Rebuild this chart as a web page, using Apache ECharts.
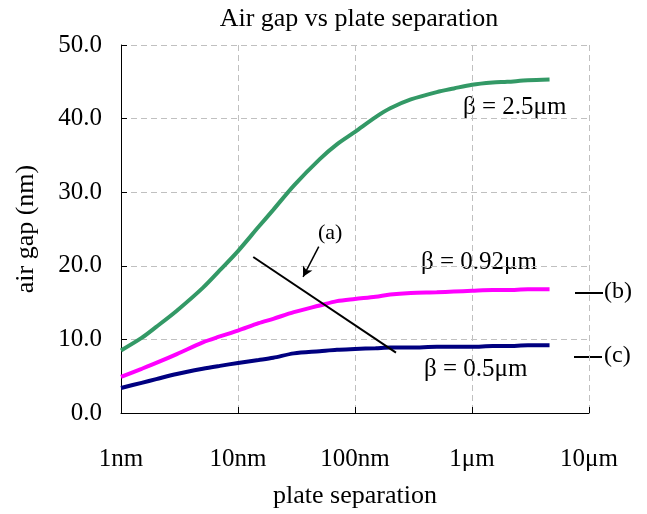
<!DOCTYPE html>
<html>
<head>
<meta charset="utf-8">
<script src="https://cdn.jsdelivr.net/npm/echarts@6/dist/echarts.min.js"></script>
<style>
  html, body { margin: 0; padding: 0; background: #fff; }
  #chart { width: 647px; height: 514px; }
</style>
</head>
<body>
<div id="chart"></div>
<script>
// plate separation (nm)
var separation = [1, 1.5, 2, 3, 5, 7, 10, 15, 20, 30, 50, 70, 100, 150, 200, 300, 500, 700, 1000, 1500, 2000, 3000, 4600];
// air gap (nm) for each beta
var gap25 = [8.5, 10.2, 11.7, 13.9, 17.0, 19.4, 22.0, 25.3, 27.6, 30.9, 34.5, 36.5, 38.2, 40.2, 41.4, 42.6, 43.6, 44.1, 44.6, 44.9, 45.0, 45.2, 45.3];
var gap092 = [4.9, 6.0, 6.8, 8.0, 9.6, 10.4, 11.2, 12.2, 12.8, 13.7, 14.6, 15.2, 15.5, 15.8, 16.1, 16.3, 16.4, 16.5, 16.6, 16.7, 16.7, 16.8, 16.8];
var gap05 = [3.4, 4.1, 4.6, 5.3, 6.0, 6.4, 6.8, 7.2, 7.5, 8.1, 8.4, 8.6, 8.7, 8.8, 8.9, 8.9, 9.0, 9.0, 9.0, 9.1, 9.1, 9.2, 9.2];
// line (a) and its arrow
var lineA = [[13.5, 21.2], [224, 8.2]];
var arrowA = [[49, 22.6], [36, 18.5]];

var xTickLabels = { 1: '1nm', 10: '10nm', 100: '100nm', 1000: '1\u03bcm', 10000: '10\u03bcm' };

var FONT = 'Liberation Serif';

function pairs(ys) {
  return separation.map(function (s, i) { return [s, ys[i]]; });
}

var chart = echarts.init(document.getElementById('chart'));

var option = {
  animation: false,
  backgroundColor: '#fff',
  textStyle: { fontFamily: FONT, color: '#000' },
  title: {
    text: 'Air gap vs plate separation',
    left: 354,
    textAlign: 'center',
    top: 1,
    textStyle: { fontFamily: FONT, fontSize: 26, fontWeight: 'normal', color: '#000' }
  },
  grid: { left: 121, right: 58, top: 45, bottom: 99 },
  xAxis: {
    type: 'log',
    logBase: 10,
    min: 1,
    max: 10000,
    name: 'plate separation',
    nameLocation: 'middle',
    nameGap: 70,
    nameTextStyle: { fontFamily: FONT, fontSize: 26, color: '#000' },
    axisLine: { lineStyle: { color: '#000', width: 1 } },
    axisTick: { show: true, inside: true, length: 6, lineStyle: { color: '#000' } },
    minorTick: { show: false },
    axisLabel: {
      margin: 34,
      fontFamily: FONT,
      fontSize: 25,
      color: '#000',
      formatter: function (v) { return xTickLabels[Math.round(v)] || ''; }
    },
    splitLine: { show: true, lineStyle: { color: '#c0c0c0', type: [6, 4] } }
  },
  yAxis: {
    type: 'value',
    min: 0,
    max: 50,
    interval: 10,
    name: 'air gap (nm)',
    nameLocation: 'middle',
    nameRotate: 90,
    nameGap: 82,
    nameTextStyle: { fontFamily: FONT, fontSize: 26, color: '#000' },
    axisLine: { show: true, lineStyle: { color: '#000', width: 1 } },
    axisTick: { show: true, inside: true, length: 6, lineStyle: { color: '#000' } },
    axisLabel: {
      margin: 19,
      fontFamily: FONT,
      fontSize: 25,
      color: '#000',
      formatter: function (v) { return v.toFixed(1); }
    },
    splitLine: { show: true, lineStyle: { color: '#c0c0c0', type: [6, 4] } }
  },
  series: [
    {
      name: '\u03b2 = 2.5\u03bcm', type: 'line', data: pairs(gap25), smooth: 0.3,
      showSymbol: false, lineStyle: { color: '#339966', width: 4 }
    },
    {
      name: '\u03b2 = 0.92\u03bcm', type: 'line', data: pairs(gap092), smooth: 0.3,
      showSymbol: false, lineStyle: { color: '#ff00ff', width: 4 }
    },
    {
      name: '\u03b2 = 0.5\u03bcm', type: 'line', data: pairs(gap05), smooth: 0.3,
      showSymbol: false, lineStyle: { color: '#000080', width: 4 }
    },
    {
      name: '(a)', type: 'line', data: lineA, showSymbol: false,
      lineStyle: { color: '#000', width: 2 },
      markLine: {
        silent: true,
        symbol: ['none', 'arrow'],
        symbolSize: [8, 10],
        label: { show: false },
        lineStyle: { color: '#000', width: 1.5, type: 'solid' },
        data: [[{ coord: arrowA[0] }, { coord: arrowA[1] }]]
      }
    }
  ],
  graphic: [
    { type: 'text', left: 463, top: 95, style: { text: '\u03b2 = 2.5\u03bcm', font: '25px "Liberation Serif"', fill: '#000' } },
    { type: 'text', left: 421, top: 250, style: { text: '\u03b2 = 0.92\u03bcm', font: '25px "Liberation Serif"', fill: '#000' } },
    { type: 'text', left: 424, top: 357, style: { text: '\u03b2 = 0.5\u03bcm', font: '25px "Liberation Serif"', fill: '#000' } },
    { type: 'text', left: 318, top: 222, style: { text: '(a)', font: '22px "Liberation Serif"', fill: '#000' } },
    { type: 'line', shape: { x1: 575, y1: 293, x2: 603, y2: 293 }, style: { stroke: '#000', lineWidth: 2 } },
    { type: 'text', left: 604, top: 280, style: { text: '(b)', font: '24px "Liberation Serif"', fill: '#000' } },
    { type: 'line', shape: { x1: 574, y1: 357, x2: 602, y2: 357 }, style: { stroke: '#000', lineWidth: 2 } },
    { type: 'text', left: 604, top: 344, style: { text: '(c)', font: '24px "Liberation Serif"', fill: '#000' } }
  ]
};

chart.setOption(option);
</script>
</body>
</html>
